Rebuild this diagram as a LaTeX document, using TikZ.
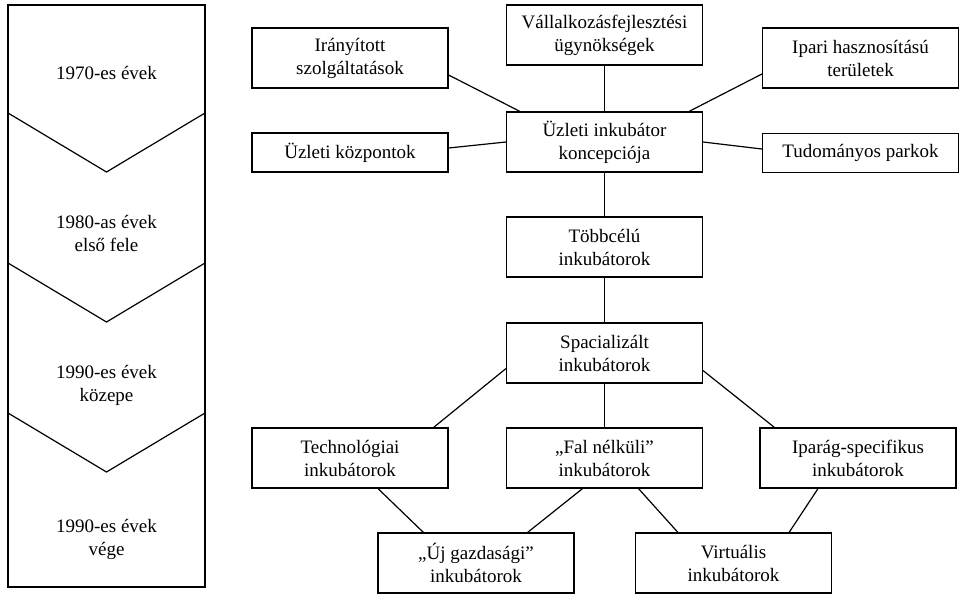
\documentclass[tikz,border=0pt]{standalone}
\usepackage{fontspec}
\setmainfont{Liberation Serif}
\usepackage{xcolor}

\begin{document}
\begin{tikzpicture}[x=1pt, y=-1pt,
  box/.style={rectangle, draw, align=center, minimum width=196pt, minimum height=60pt, inner sep=0pt, line width=1.2pt, font=\fontsize{19}{23}\selectfont},
  flat/.style={box, minimum height=39pt},
  era/.style={align=center, font=\fontsize{19}{23}\selectfont},
  edge/.style={line width=1.2pt}
]
\useasboundingbox (0,0) rectangle (965,595);
% time line on the left
\draw[line width=1.2pt] (8,5) rectangle (205,587);
\foreach \y in {113,263,413}
  \draw[line width=1.2pt] (8,\y) -- (106.5,\y+59) -- (205,\y);
\node[era] (e1) at (106.5,73) {1970-es évek};
\node[era] (e2) at (106.5,233) {1980-as évek\\első fele};
\node[era] (e3) at (106.5,385) {1990-es évek\\közepe};
\node[era] (e4) at (106.5,539) {1990-es évek\\vége};
% boxes
\node[box] (iranyitott) at (350,58) {Irányított\\szolgáltatások};
\node[box] (vallalkozas) at (604.5,35) {Vállalkozásfejlesztési\\ügynökségek};
\node[box] (ipari) at (860.5,58) {Ipari hasznosítású\\területek};
\node[flat] (kozpontok) at (350,152.5) {Üzleti központok};
\node[box] (koncepcio) at (604.5,142) {Üzleti inkubátor\\koncepciója};
\node[flat] (tudomanyos) at (860.5,153) {Tudományos parkok};
\node[box] (tobbcelu) at (604.5,247) {Többcélú\\inkubátorok};
\node[box] (spec) at (604.5,353) {Spacializált\\inkubátorok};
\node[box] (techno) at (350,458) {Technológiai\\inkubátorok};
\node[box] (falnelkuli) at (604.5,458) {„Fal nélküli”\\inkubátorok};
\node[box] (iparag) at (858,458) {Iparág-specifikus\\inkubátorok};
\node[box] (ujgazd) at (476,563) {„Új gazdasági”\\inkubátorok};
\node[box] (virtualis) at (733.5,563) {Virtuális\\inkubátorok};
% connectors
\draw[edge] ([yshift=-17pt]iranyitott.east) -- ([xshift=14pt]koncepcio.north west);
\draw[edge] (vallalkozas) -- (koncepcio);
\draw[edge] ([yshift=-16pt]ipari.west) -- ([xshift=-14pt]koncepcio.north east);
\draw[edge] ([yshift=4.5pt]kozpontok.east) -- (koncepcio.west);
\draw[edge] (koncepcio.east) -- ([yshift=4pt]tudomanyos.west);
\draw[edge] (koncepcio) -- (tobbcelu);
\draw[edge] (tobbcelu) -- (spec);
\draw[edge] (spec) -- (falnelkuli);
\draw[edge] ([yshift=15pt]spec.south west) -- ([xshift=-15pt]techno.north east);
\draw[edge] ([yshift=13pt]spec.south east) -- ([xshift=15pt]iparag.north west);
\draw[edge] ([xshift=28pt]techno.south) -- ([xshift=46pt]ujgazd.north west);
\draw[edge] ([xshift=-22pt]falnelkuli.south) -- ([xshift=-47pt]ujgazd.north east);
\draw[edge] ([xshift=34pt]falnelkuli.south) -- ([xshift=43pt]virtualis.north west);
\draw[edge] ([xshift=-40pt]iparag.south) -- ([xshift=-43pt]virtualis.north east);
\end{tikzpicture}
\end{document}
